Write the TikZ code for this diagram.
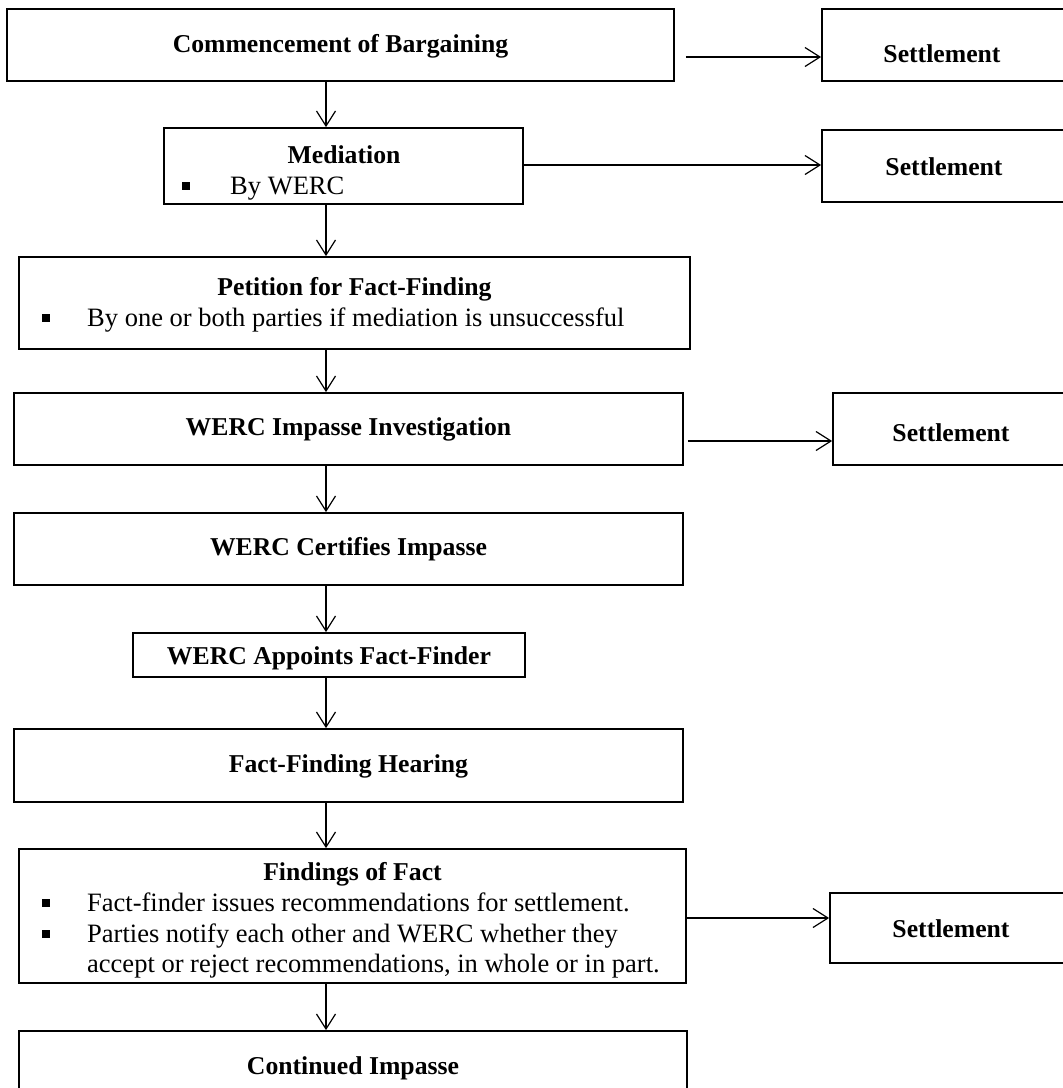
\documentclass[tikz,border=0pt]{standalone}
\usepackage{fontspec}
\setmainfont{Liberation Serif}
\usetikzlibrary{arrows.meta,calc}
\begin{document}
\begin{tikzpicture}[x=1pt,y=-1pt,
  box/.style={draw, line width=1.8pt, inner sep=0pt},
  ttl/.style={font=\fontsize{25.7pt}{30pt}\selectfont\bfseries, inner sep=0pt},
  txt/.style={font=\fontsize{26.5pt}{30.5pt}\selectfont, inner sep=0pt},
  bul/.style={fill=black, minimum size=7.5pt, inner sep=0pt},
  arr/.style={line width=1.2pt, -{Straight Barb[length=15pt,width=19pt]}}]
\useasboundingbox (0,0) rectangle (1063,1088);
\fill[white] (0,0) rectangle (1063,1088);
\clip (0,0) rectangle (1063,1088);
% boxes
\node[box, minimum width=667pt, minimum height=72pt] (b1) at (340.5,45) {};
\node[box, minimum width=248pt, minimum height=72pt] (s1) at (946,45) {};
\node[box, minimum width=359pt, minimum height=76pt] (b2) at (343.5,166) {};
\node[box, minimum width=248pt, minimum height=72pt] (s2) at (946,166) {};
\node[box, minimum width=671pt, minimum height=92pt] (b3) at (354.5,303) {};
\node[box, minimum width=669pt, minimum height=72pt] (b4) at (348.5,429) {};
\node[box, minimum width=237pt, minimum height=72pt] (s3) at (951.5,429) {};
\node[box, minimum width=669pt, minimum height=72pt] (b5) at (348.5,549) {};
\node[box, minimum width=392pt, minimum height=44pt] (b6) at (329,655) {};
\node[box, minimum width=669pt, minimum height=73pt] (b7) at (348.5,765.5) {};
\node[box, minimum width=667pt, minimum height=134pt] (b8) at (352.5,916) {};
\node[box, minimum width=240pt, minimum height=70pt] (s4) at (950,928) {};
\node[box, minimum width=668pt, minimum height=89pt] (b9) at (353,1075.5) {};
% texts
\node[ttl, anchor=base] (t1) at (340.5,52) {Commencement of Bargaining};
\node[ttl, anchor=base] (ts1) at (942,62) {Settlement};
\node[ttl, anchor=base] (t2) at (344,163) {Mediation};
\node[bul] (bu2) at (186,186) {};
\node[txt, anchor=base west] (tx2) at (230,194) {By WERC};
\node[ttl, anchor=base] (ts2) at (944,175) {Settlement};
\node[ttl, anchor=base] (t3) at (354.5,295) {Petition for Fact-Finding};
\node[bul] (bu3) at (46,318) {};
\node[txt, anchor=base west] (tx3) at (87,326) {By one or both parties if mediation is unsuccessful};
\node[ttl, anchor=base] (t4) at (348.5,435) {WERC Impasse Investigation};
\node[ttl, anchor=base] (ts3) at (951,441) {Settlement};
\node[ttl, anchor=base] (t5) at (348.5,555) {WERC Certifies Impasse};
\node[ttl, anchor=base] (t6) at (329,664) {WERC Appoints Fact-Finder};
\node[ttl, anchor=base] (t7) at (348.5,772) {Fact-Finding Hearing};
\node[ttl, anchor=base] (t8) at (352.5,880) {Findings of Fact};
\node[bul] (bu8a) at (46,903) {};
\node[txt, anchor=base west] (tx8a) at (87,911) {Fact-finder issues recommendations for settlement.};
\node[bul] (bu8b) at (46,934) {};
\node[txt, anchor=base west] (tx8b) at (87,942) {Parties notify each other and WERC whether they};
\node[txt, anchor=base west] (tx8c) at (87,972) {accept or reject recommendations, in whole or in part.};
\node[ttl, anchor=base] (ts4) at (951,937) {Settlement};
\node[ttl, anchor=base] (t9) at (353,1074) {Continued Impasse};
% spine and rows
\coordinate (spine) at (326,0);
\coordinate (r1) at (0,57);
\coordinate (r2) at (0,165);
\coordinate (r3) at (0,441);
\coordinate (r4) at (0,918);
% vertical arrows
\draw[arr] (spine |- b1.south) -- (spine |- b2.north);
\draw[arr] (spine |- b2.south) -- (spine |- b3.north);
\draw[arr] (spine |- b3.south) -- (spine |- b4.north);
\draw[arr] (spine |- b4.south) -- (spine |- b5.north);
\draw[arr] (spine |- b5.south) -- (spine |- b6.north);
\draw[arr] (spine |- b6.south) -- (spine |- b7.north);
\draw[arr] (spine |- b7.south) -- (spine |- b8.north);
\draw[arr] (spine |- b8.south) -- (spine |- b9.north);
% horizontal arrows
\draw[arr] ($(b1.east |- r1)+(11,0)$) -- (s1.west |- r1);
\draw[arr] (b2.east |- r2) -- (s2.west |- r2);
\draw[arr] ($(b4.east |- r3)+(4,0)$) -- (s3.west |- r3);
\draw[arr] (b8.east |- r4) -- (s4.west |- r4);
\end{tikzpicture}
\end{document}
